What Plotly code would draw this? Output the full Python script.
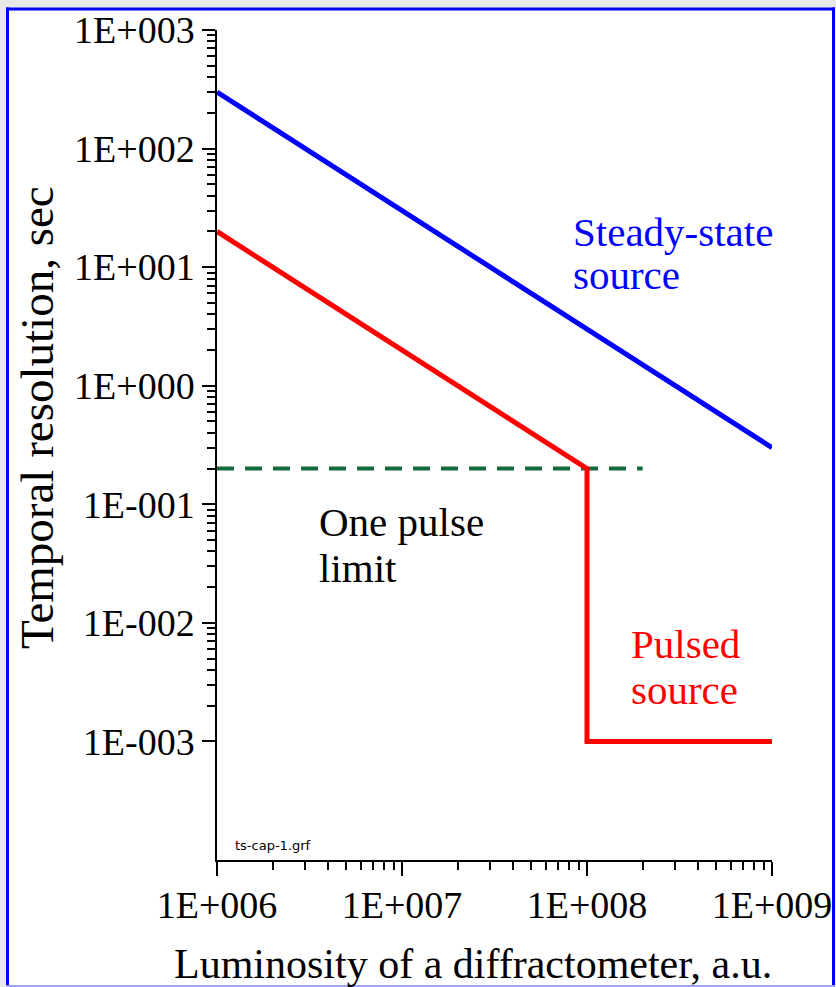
import plotly.graph_objects as go

# Luminosity (a.u.) and temporal resolution (s) for each source type
lum_steady = [1e6, 1e9]
t_steady = [300, 0.3]

lum_pulsed = [1e6, 1e8, 1e8, 1e9]
t_pulsed = [20, 0.2, 1e-3, 1e-3]

lum_limit = [1e6, 2e8]
t_limit = [0.2, 0.2]

x_tickvals = [1e6, 1e7, 1e8, 1e9]
x_ticktext = ["1E+006", "1E+007", "1E+008", "1E+009"]
y_tickvals = [1e-3, 1e-2, 1e-1, 1e0, 1e1, 1e2, 1e3]
y_ticktext = ["1E-003", "1E-002", "1E-001", "1E+000", "1E+001", "1E+002", "1E+003"]

x_minor = [m * 10 ** d for d in range(6, 9) for m in range(2, 10)]
y_minor = [m * 10 ** d for d in range(-3, 3) for m in range(2, 10)]

SERIF = "Liberation Serif, Times New Roman, serif"

fig = go.Figure()
fig.add_trace(go.Scatter(x=lum_limit, y=t_limit, mode="lines",
                         line=dict(color="#136b3b", width=4, dash="17px,11px")))
fig.add_trace(go.Scatter(x=lum_steady, y=t_steady, mode="lines",
                         line=dict(color="#0000ff", width=5)))
fig.add_trace(go.Scatter(x=lum_pulsed, y=t_pulsed, mode="lines",
                         line=dict(color="#ff0000", width=5)))

W, H = 836, 987
L, R, T, B = 217, 64, 30, 127
pw, ph = W - L - R, H - T - B


def px(x):
    return (x - L) / pw


def py(y):
    return (H - B - y) / ph


# page frame
shapes = [
    dict(type="rect", xref="paper", yref="paper", layer="below",
         x0=px(7.5), x1=px(833.5), y0=py(986), y1=py(9),
         fillcolor="white", line=dict(width=0)),
    dict(type="line", xref="paper", yref="paper", x0=px(7.5), x1=px(7.5),
         y0=py(986), y1=py(7.5), line=dict(color="#0000ff", width=3)),
    dict(type="line", xref="paper", yref="paper", x0=px(6), x1=px(835),
         y0=py(9), y1=py(9), line=dict(color="#0000ff", width=3)),
    dict(type="line", xref="paper", yref="paper", x0=px(833.5), x1=px(833.5),
         y0=py(986), y1=py(7.5), line=dict(color="#0000ff", width=3)),
    dict(type="line", xref="paper", yref="paper", x0=px(6), x1=px(835),
         y0=py(986), y1=py(986), line=dict(color="#a0a0ff", width=2)),
]


def label(text, x, y_mid, color, size=41, family=SERIF):
    return dict(text=text, xref="paper", yref="paper", x=px(x), y=py(y_mid),
                xanchor="left", yanchor="middle", showarrow=False,
                font=dict(family=family, size=size, color=color))


annotations = [
    label("Steady-state", 571, 232, "#0000ff"),
    label("source", 571, 275, "#0000ff"),
    label("One pulse", 317, 522, "black"),
    label("limit", 317, 568, "black"),
    label("Pulsed", 629, 644, "#ff0000"),
    label("source", 629, 690, "#ff0000"),
    label("ts-cap-1.grf", 233, 845, "black", size=13, family="DejaVu Sans, Verdana, sans-serif"),
    dict(text="Luminosity of a diffractometer, a.u.", xref="paper", yref="paper",
         x=px(473), y=py(964), xanchor="center", yanchor="middle", showarrow=False,
         font=dict(family=SERIF, size=42, color="black")),
    dict(text="Temporal resolution, sec", xref="paper", yref="paper",
         x=px(37), y=py(418), xanchor="center", yanchor="middle", showarrow=False,
         textangle=-90, font=dict(family=SERIF, size=47, color="black")),
]

fig.update_layout(
    width=W, height=H,
    margin=dict(l=L, r=R, t=T, b=B, autoexpand=False),
    paper_bgcolor="#e8e8e8",
    plot_bgcolor="white",
    showlegend=False,
    shapes=shapes,
    annotations=annotations,
    font=dict(family=SERIF, color="black"),
)

axis_common = dict(
    type="log", showgrid=False, zeroline=False, automargin=False,
    showline=True, linecolor="black", linewidth=1.5,
    ticks="outside", tickwidth=1.5, tickcolor="black", tickmode="array",
    tickfont=dict(family=SERIF, size=38, color="black"),
)
fig.update_xaxes(
    **axis_common, range=[6, 9], ticklen=14, ticklabelstandoff=-3,
    tickvals=x_tickvals, ticktext=x_ticktext,
    minor=dict(tickmode="array", tickvals=x_minor, ticks="outside",
               ticklen=8, tickwidth=1.5, tickcolor="black", showgrid=False),
)
fig.update_yaxes(
    **axis_common, range=[-4, 3], ticklen=13,
    tickvals=y_tickvals, ticktext=y_ticktext,
    minor=dict(tickmode="array", tickvals=y_minor, ticks="outside",
               ticklen=8, tickwidth=1.5, tickcolor="black", showgrid=False),
)

fig.write_html("out.html")
